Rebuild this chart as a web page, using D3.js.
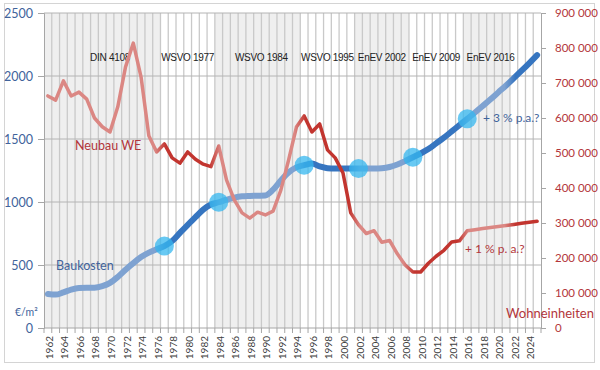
<!DOCTYPE html>
<html>
<head>
<meta charset="utf-8">
<script src="https://cdn.jsdelivr.net/npm/d3@7"></script>
<style>
body{margin:0;background:#fff}
svg{display:block;font-family:Lato,"Liberation Sans",sans-serif}
</style>
</head>
<body>
<svg id="chart" width="600" height="370"></svg>
<script>
// categories: one per year
var years = d3.range(1962, 2026);

// Baukosten in EUR/m2 (left axis)
var baukosten = [270, 265, 283, 305, 318, 320, 320, 332, 358, 405,
  462, 515, 563, 598, 625, 650, 690, 755, 818, 880,
  940, 980, 998, 1018, 1035, 1045, 1048, 1050, 1052, 1098,
  1170, 1235, 1275, 1292, 1305, 1282, 1268, 1265, 1265, 1265,
  1265, 1265, 1265, 1268, 1278, 1298, 1325, 1355, 1385, 1420,
  1465, 1510, 1560, 1610, 1660, 1710, 1762, 1815, 1870, 1925,
  1983, 2042, 2103, 2166];

// Neubau Wohneinheiten (right axis)
var neubauWE = [663000, 651000, 706000, 663000, 674000, 654000, 600000, 575000, 560000, 632000,
  746000, 814000, 717000, 549000, 503000, 526000, 486000, 471000, 503000, 482000,
  468000, 461000, 520000, 423000, 366000, 329000, 314000, 331000, 323000, 334000,
  394000, 480000, 574000, 606000, 560000, 583000, 509000, 486000, 443000, 329000,
  295000, 270000, 278000, 245000, 250000, 212000, 180000, 160000, 160000, 185000,
  205000, 222000, 246000, 249000, 278000, 281000, 284000, 287000, 290000, 293000,
  296000, 299000, 302000, 305000];

// regulation periods (shaded = grey band)
var periodLabels = ["DIN 4108", "WSVO 1977", "WSVO 1984", "WSVO 1995", "EnEV 2002", "EnEV 2009", "EnEV 2016", ""];
var periodFrom = [1962, 1977, 1984, 1995, 2002, 2009, 2016, 2022];
var periodTo = [1976, 1983, 1994, 2001, 2008, 2015, 2021, 2025];
var periodLabelYear = [1970, 1980, 1989.5, 1998, 2005, 2012, 2019, null];

var markYears = [1977, 1984, 1995, 2002, 2009, 2016];

var leftTicks = [0, 500, 1000, 1500, 2000, 2500];
var rightTicks = [0, 100000, 200000, 300000, 400000, 500000, 600000, 700000, 800000, 900000];

var svg = d3.select("#chart");
var L = 44, R = 541, T = 13, B = 328;

var x = d3.scaleLinear().domain([1961.5, 2025.5]).range([L, R]);
var yL = d3.scaleLinear().domain([0, 2500]).range([B, T]);
var yR = d3.scaleLinear().domain([0, 900000]).range([B, T]);

// outer frame
svg.append("rect").attr("x", 4.5).attr("y", 3.5).attr("width", 590).attr("height", 359)
  .attr("fill", "#fff").attr("stroke", "#d4d4d4");

var periods = periodLabels.map(function(l, i){
  return {label: l, from: periodFrom[i], to: periodTo[i], at: periodLabelYear[i], shaded: i % 2 == 0};
});

// grey bands
svg.append("g").selectAll("rect")
  .data(periods.filter(function(p){ return p.shaded; }))
  .enter().append("rect")
  .attr("x", function(p){ return x(p.from - 0.5); })
  .attr("width", function(p){ return x(p.to + 0.5) - x(p.from - 0.5); })
  .attr("y", T).attr("height", B - T)
  .attr("fill", "#efefef");

// vertical grid, one line per category border
svg.append("g").selectAll("line")
  .data(years.slice(1))
  .enter().append("line")
  .attr("x1", function(d){ return x(d - 0.5); }).attr("x2", function(d){ return x(d - 0.5); })
  .attr("y1", T).attr("y2", B)
  .attr("stroke", "#c9c9c9").attr("stroke-width", 1.3);

// horizontal grid from left axis
svg.append("g").selectAll("line")
  .data(leftTicks.slice(1))
  .enter().append("line")
  .attr("x1", L).attr("x2", R)
  .attr("y1", function(d){ return yL(d); }).attr("y2", function(d){ return yL(d); })
  .attr("stroke", "#b4b4b4").attr("stroke-width", 1);

// axes
var axisCol = "#a6a6a6";
var gl = svg.append("g").attr("transform", "translate(" + L + ",0)")
  .call(d3.axisLeft(yL).tickValues(leftTicks).tickSize(6).tickPadding(5).tickFormat(d3.format("d")));
gl.select(".domain").attr("stroke", axisCol);
gl.selectAll(".tick line").attr("stroke", axisCol);
gl.selectAll(".tick text").attr("fill", "#41639b").attr("font-size", "12.5px").attr("font-family", "Lato");

var gr = svg.append("g").attr("transform", "translate(" + R + ",0)")
  .call(d3.axisRight(yR).tickValues(rightTicks).tickSize(5).tickPadding(9)
    .tickFormat(function(v){ return d3.format(",")(v).replace(/,/g, " "); }));
gr.select(".domain").attr("stroke", axisCol);
gr.selectAll(".tick line").attr("stroke", axisCol);
gr.selectAll(".tick text").attr("fill", "#b3363b").attr("font-size", "11.5px").attr("font-family", "Lato");

var gb = svg.append("g").attr("transform", "translate(0," + B + ")");
gb.append("line").attr("x1", L).attr("x2", R).attr("stroke", axisCol);
gb.selectAll("line.tk").data(years.concat([2026])).enter().append("line").attr("class", "tk")
  .attr("x1", function(d){ return x(d - 0.5); }).attr("x2", function(d){ return x(d - 0.5); })
  .attr("y1", 0).attr("y2", 5).attr("stroke", axisCol);
gb.selectAll("text").data(years.filter(function(d){ return d % 2 == 0; })).enter().append("text")
  .attr("transform", function(d){ return "translate(" + (x(d) + 1.5) + ",8) rotate(-90)"; })
  .attr("text-anchor", "end").attr("dy", "0.35em")
  .attr("font-size", "10px").attr("fill", "#404040")
  .text(function(d){ return d; });

// period labels
svg.append("g").selectAll("text")
  .data(periods.filter(function(p){ return p.label; }))
  .enter().append("text")
  .attr("x", function(p){ return x(p.at); }).attr("y", 61)
  .attr("text-anchor", "middle")
  .attr("font-family", "Liberation Sans, Arial, sans-serif").attr("font-size", "10px")
  .attr("letter-spacing", "-0.3").attr("fill", "#222")
  .text(function(p){ return p.label; });

// gradients: light in grey periods, dark in white periods
var defs = svg.append("defs");
function addGradient(id, light, dark){
  var g = defs.append("linearGradient").attr("id", id)
    .attr("gradientUnits", "userSpaceOnUse")
    .attr("x1", x(1961.5)).attr("x2", x(2025.5)).attr("y1", 0).attr("y2", 0);
  var span = R - L;
  periods.forEach(function(p){
    var c = p.shaded ? light : dark;
    [p.from + 0.2, p.to - 0.2].forEach(function(yr){
      g.append("stop").attr("offset", (x(yr) - L) / span).attr("stop-color", c);
    });
  });
}
addGradient("gradBlue", "#7ea2d1", "#3675c0");
addGradient("gradRed", "#db8783", "#c2352f");

var bauLine = d3.line()
  .x(function(d, i){ return x(years[i]); })
  .y(function(d){ return yL(d); })
  .curve(d3.curveMonotoneX);
svg.append("path").datum(baukosten)
  .attr("d", bauLine).attr("fill", "none")
  .attr("stroke", "url(#gradBlue)").attr("stroke-width", 6)
  .attr("stroke-linecap", "round").attr("stroke-linejoin", "round");

var weLine = d3.line()
  .x(function(d, i){ return x(years[i]); })
  .y(function(d){ return yR(d); });
svg.append("path").datum(neubauWE)
  .attr("d", weLine).attr("fill", "none")
  .attr("stroke", "url(#gradRed)").attr("stroke-width", 3.5)
  .attr("stroke-linecap", "round").attr("stroke-linejoin", "round");

// markers at each new regulation
svg.append("g").selectAll("circle")
  .data(markYears)
  .enter().append("circle")
  .attr("cx", function(d){ return x(d); })
  .attr("cy", function(d){ return yL(baukosten[years.indexOf(d)]); })
  .attr("r", 9.5)
  .attr("fill", "#35b7ef").attr("fill-opacity", 0.75);

// annotations
function note(txt, px, py, col, size, anchor){
  svg.append("text").attr("x", px).attr("y", py).attr("fill", col)
    .attr("font-size", size).attr("text-anchor", anchor || "start").text(txt);
}
note("Neubau WE", 75, 150, "#b3363b", "12.5px");
note("Baukosten", 56, 270, "#41639b", "12.5px");
note("€/m²", 15, 316, "#41639b", "10.5px");
note("Wohneinheiten", 550, 318, "#b3363b", "13px", "middle");
note("+ 3 % p.a.?", 483, 122, "#41639b", "12px");
note("+ 1 % p. a.?", 465, 253, "#b3363b", "12px");
</script>
</body>
</html>
